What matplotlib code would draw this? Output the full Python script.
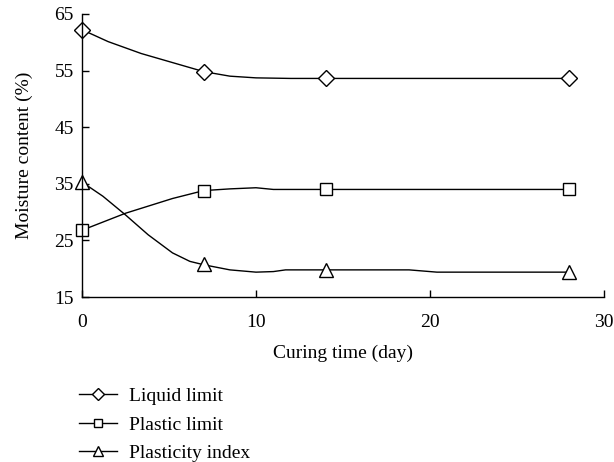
import numpy as np
import matplotlib
matplotlib.use("Agg")
import matplotlib.pyplot as plt

plt.rcParams['font.family'] = ['Liberation Serif', 'DejaVu Serif']

# measured points (markers)
days = [0, 7, 14, 28]
liquid_limit = [62.2, 54.8, 53.6, 53.6]
plastic_limit = [26.8, 33.8, 34.0, 34.0]
plasticity_index = [35.3, 20.8, 19.8, 19.4]

# smoothed curve as drawn in the figure
ll_days = [0, 1.5, 3.4, 5.2, 7, 8.5, 10, 12, 14, 28]
ll_curve = [62.2, 60.1, 58.0, 56.4, 54.8, 54.0, 53.7, 53.6, 53.6, 53.6]
pl_days = [0, 2.5, 5.2, 7, 8.5, 10, 11, 14, 28]
pl_curve = [26.8, 29.8, 32.4, 33.8, 34.1, 34.3, 34.0, 34.0, 34.0]
pi_days = [0, 1.2, 2.5, 3.8, 5.2, 6.2, 7, 8.5, 10, 11, 11.7, 14, 18.8, 20.4, 28]
pi_curve = [35.3, 32.8, 29.5, 26.0, 22.8, 21.3, 20.7, 19.8, 19.4, 19.5, 19.8, 19.8, 19.8, 19.4, 19.4]

fs = 14

fig = plt.figure(figsize=(6.14, 4.62), dpi=100)
ax = fig.add_axes([0.1336, 0.357, 0.850, 0.613])

ax.plot(ll_days, ll_curve, color='black', lw=1.0)
ax.plot(pl_days, pl_curve, color='black', lw=1.0)
ax.plot(pi_days, pi_curve, color='black', lw=1.0)
ax.plot(days, liquid_limit, ls='none', marker='D', ms=8.5, mfc='white', mec='black', mew=1.0, clip_on=False)
ax.plot(days, plastic_limit, ls='none', marker='s', ms=8, mfc='white', mec='black', mew=1.0, clip_on=False)
ax.plot(days, plasticity_index, ls='none', marker='^', ms=10, mfc='white', mec='black', mew=1.0, clip_on=False)

ax.set_xlim(0, 30)
ax.set_ylim(15, 65)
ax.set_xticks([0, 10, 20, 30])
ax.set_yticks([15, 25, 35, 45, 55, 65])
ax.spines['top'].set_visible(False)
ax.spines['right'].set_visible(False)
ax.spines['left'].set_linewidth(1.0)
ax.spines['bottom'].set_linewidth(1.0)
ax.tick_params(direction='in', length=5, width=1.0, labelsize=fs)
ax.tick_params(axis='x', pad=12)
ax.tick_params(axis='y', pad=6)
ax.set_xlabel('Curing time (day)', fontsize=fs, labelpad=10)
ax.set_ylabel('Moisture content (%)', fontsize=fs, labelpad=15)

# legend below the plot
h1, = ax.plot([], [], color='black', lw=1.0, marker='D', ms=6, mfc='white', mec='black')
h2, = ax.plot([], [], color='black', lw=1.0, marker='s', ms=6, mfc='white', mec='black')
h3, = ax.plot([], [], color='black', lw=1.0, marker='^', ms=7, mfc='white', mec='black')
fig.legend([h1, h2, h3], ['Liquid limit', 'Plastic limit', 'Plasticity index'],
           loc='upper left', bbox_to_anchor=(0.128, 0.161), frameon=False,
           borderpad=0, borderaxespad=0,
           fontsize=fs, handlelength=2.0, labelspacing=0.55, handletextpad=0.6)

fig.savefig('out.png', dpi=100)
